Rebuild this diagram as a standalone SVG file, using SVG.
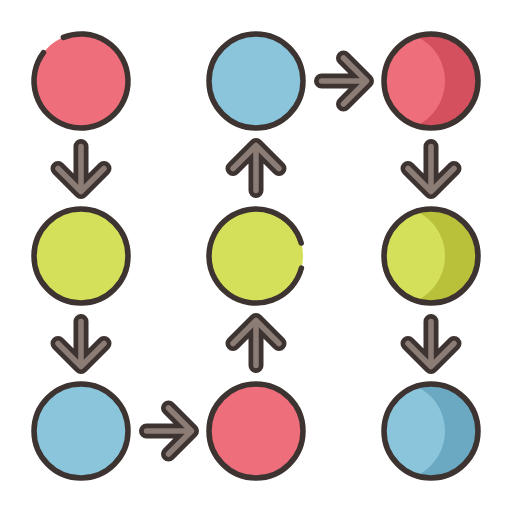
<svg xmlns="http://www.w3.org/2000/svg" width="512" height="512" viewBox="0 0 512 512">
  <style>
    .ring{fill:none;stroke:#3d3331;stroke-width:5.5;stroke-linecap:round}
    .red{fill:#ef6e7b}.redd{fill:#d5505e}
    .grn{fill:#d5e05a}.grnd{fill:#b9c13a}
    .blu{fill:#8ac5dc}.blud{fill:#6ba8c2}
    .ao{fill:none;stroke:#3d3331;stroke-width:15;stroke-linecap:round;stroke-linejoin:round}
    .ai{fill:none;stroke:#8b7c76;stroke-width:5.5;stroke-linecap:round;stroke-linejoin:round}
  </style>
  <defs>
    <clipPath id="c13"><circle cx="431" cy="81" r="47"/></clipPath>
    <clipPath id="c23"><circle cx="431" cy="256" r="47"/></clipPath>
    <clipPath id="c33"><circle cx="431" cy="431" r="47"/></clipPath>
    <g id="arr">
      <path class="ao" d="M0,-22 V22 M-23,0 L0,23 L23,0"/>
      <path class="ai" d="M0,-22 V22 M-23,0 L0,23 L23,0"/>
    </g>
  </defs>

  <g id="connectors">
    <use href="#arr" transform="translate(81,168.5)"/>
    <use href="#arr" transform="translate(81,343.5)"/>
    <use href="#arr" transform="translate(168.5,431) rotate(-90)"/>
    <use href="#arr" transform="translate(256,343.5) rotate(180)"/>
    <use href="#arr" transform="translate(256,168.5) rotate(180)"/>
    <use href="#arr" transform="translate(343.5,81) rotate(-90)"/>
    <use href="#arr" transform="translate(431,168.5)"/>
    <use href="#arr" transform="translate(431,343.5)"/>
  </g>

  <g id="n11">
    <circle class="red" cx="81" cy="81" r="47"/>
    <path class="ring" d="M63.39,37.42 A47,47 0 1 1 43.47,52.71"/>
  </g>
  <g id="n12">
    <circle class="blu" cx="256" cy="81" r="47"/>
    <circle class="ring" cx="256" cy="81" r="47"/>
  </g>
  <g id="n13">
    <circle class="redd" cx="431" cy="81" r="47"/>
    <circle class="red" cx="396" cy="81" r="49" clip-path="url(#c13)"/>
    <circle class="ring" cx="431" cy="81" r="47"/>
  </g>
  <g id="n21">
    <circle class="grn" cx="81" cy="256" r="47"/>
    <circle class="ring" cx="81" cy="256" r="47"/>
  </g>
  <g id="n22">
    <circle class="grn" cx="256" cy="256" r="47"/>
    <path class="ring" d="M301.40,268.16 A47,47 0 1 1 301.18,243.05"/>
  </g>
  <g id="n23">
    <circle class="grnd" cx="431" cy="256" r="47"/>
    <circle class="grn" cx="396" cy="256" r="49" clip-path="url(#c23)"/>
    <circle class="ring" cx="431" cy="256" r="47"/>
  </g>
  <g id="n31">
    <circle class="blu" cx="81" cy="431" r="47"/>
    <circle class="ring" cx="81" cy="431" r="47"/>
  </g>
  <g id="n32">
    <circle class="red" cx="256" cy="431" r="47"/>
    <circle class="ring" cx="256" cy="431" r="47"/>
  </g>
  <g id="n33">
    <circle class="blud" cx="431" cy="431" r="47"/>
    <circle class="blu" cx="396" cy="431" r="49" clip-path="url(#c33)"/>
    <circle class="ring" cx="431" cy="431" r="47"/>
  </g>
</svg>
